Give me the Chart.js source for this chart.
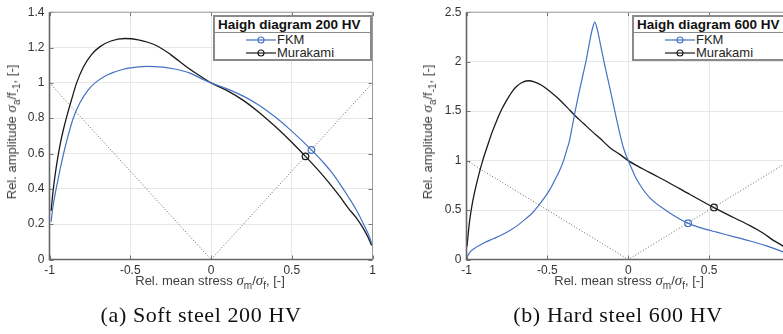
<!DOCTYPE html>
<html><head><meta charset="utf-8">
<script src="https://cdn.jsdelivr.net/npm/chart.js@4.4.1/dist/chart.umd.min.js"></script>
<style>
html,body{margin:0;padding:0;background:#fff;}
body{width:783px;height:334px;overflow:hidden;position:relative;font-family:"Liberation Sans",Arial,Helvetica,sans-serif;}
canvas{position:absolute;top:0;}
#c1{left:0;}
#c2{left:390px;}
.ylab{position:absolute;white-space:nowrap;transform:translate(-50%,-50%) rotate(-90deg);font-size:13px;line-height:15px;color:#404040;}
.xlab{position:absolute;white-space:nowrap;transform:translateX(-50%);font-size:13px;line-height:15px;color:#404040;}
.sym{font-family:"Liberation Serif","Times New Roman",serif;font-style:italic;font-size:15px;}
.sb{font-size:10px;position:relative;top:4px;}
.cap{position:absolute;white-space:nowrap;transform:translateX(-50%);font-family:"Liberation Serif","Times New Roman",serif;font-size:22px;line-height:26px;letter-spacing:0.6px;color:#111;}
.leg{position:absolute;top:15px;width:159px;height:46px;box-sizing:border-box;border:2px solid #8a8a8a;background:#fff;}
.leg .sep{position:absolute;left:0;right:0;top:15px;height:0;border-top:1.5px solid #8a8a8a;}
.leg .ttl{position:absolute;left:3px;top:0px;font-weight:bold;font-size:13.5px;line-height:15px;color:#111;white-space:nowrap;}
.leg .ent{position:absolute;left:31px;font-size:13px;line-height:14px;color:#262626;white-space:nowrap;}
.leg svg{position:absolute;left:31px;}
</style>
</head><body>
<canvas id="c1" width="390" height="334"></canvas>
<canvas id="c2" width="420" height="334"></canvas>

<div class="ylab" style="left:12px;top:132px;">Rel. amplitude <span class="sym">σ</span><span class="sb">a</span>/f<span class="sb">-1</span>, [-]</div>
<div class="ylab" style="left:428px;top:132px;">Rel. amplitude <span class="sym">σ</span><span class="sb">a</span>/f<span class="sb">-1</span>, [-]</div>
<div class="xlab" style="left:210px;top:273px;">Rel. mean stress <span class="sym">σ</span><span class="sb">m</span>/<span class="sym">σ</span><span class="sb">f</span>, [-]</div>
<div class="xlab" style="left:629px;top:273px;">Rel. mean stress <span class="sym">σ</span><span class="sb">m</span>/<span class="sym">σ</span><span class="sb">f</span>, [-]</div>
<div class="cap" style="left:201px;top:302px;">(a) Soft steel 200 HV</div>
<div class="cap" style="left:618px;top:302px;">(b) Hard steel 600 HV</div>

<div class="leg" style="left:213px;">
  <div class="ttl">Haigh diagram 200 HV</div>
  <div class="sep"></div>
  <svg style="left:31px;top:19px" width="30" height="8"><line x1="0" y1="4" x2="30" y2="4" stroke="#4472c4" stroke-width="1.2"/><circle cx="15" cy="4" r="3" fill="none" stroke="#4472c4" stroke-width="1.1"/></svg>
  <div class="ent" style="left:62px;top:16px;">FKM</div>
  <svg style="left:31px;top:32px" width="30" height="8"><line x1="0" y1="4" x2="30" y2="4" stroke="#1a1a1a" stroke-width="1.2"/><circle cx="15" cy="4" r="3" fill="none" stroke="#1a1a1a" stroke-width="1.1"/></svg>
  <div class="ent" style="left:62px;top:29px;">Murakami</div>
</div>
<div class="leg" style="left:632px;">
  <div class="ttl">Haigh diagram 600 HV</div>
  <div class="sep"></div>
  <svg style="left:31px;top:19px" width="30" height="8"><line x1="0" y1="4" x2="30" y2="4" stroke="#4472c4" stroke-width="1.2"/><circle cx="15" cy="4" r="3" fill="none" stroke="#4472c4" stroke-width="1.1"/></svg>
  <div class="ent" style="left:62px;top:16px;">FKM</div>
  <svg style="left:31px;top:32px" width="30" height="8"><line x1="0" y1="4" x2="30" y2="4" stroke="#1a1a1a" stroke-width="1.2"/><circle cx="15" cy="4" r="3" fill="none" stroke="#1a1a1a" stroke-width="1.1"/></svg>
  <div class="ent" style="left:62px;top:29px;">Murakami</div>
</div>

<script>
// ---- tick values / labels ----
const xTickValues = [-1, -0.5, 0, 0.5, 1];
const xTickLabels = ['-1', '-0.5', '0', '0.5', '1'];
const yTickValues200 = [0, 0.2, 0.4, 0.6, 0.8, 1, 1.2, 1.4];
const yTickLabels200 = ['0', '0.2', '0.4', '0.6', '0.8', '1', '1.2', '1.4'];
const yTickValues600 = [0, 0.5, 1, 1.5, 2, 2.5];
const yTickLabels600 = ['0', '0.5', '1', '1.5', '2', '2.5'];

// ---- reference diagonals (sigma_a = |sigma_m|) ----
const diagX = [-1, 0, 1];
const diagY = [1, 0, 1];

// ---- 200 HV: FKM ----
const fkm200X = [-0.99,-0.98,-0.965,-0.95,-0.93,-0.91,-0.885,-0.853,-0.81,-0.76,-0.718,-0.646,-0.543,-0.45,-0.40,-0.30,-0.233,-0.13,-0.06,0,0.1,0.2,0.3,0.4,0.5,0.625,0.7,0.75,0.8,0.85,0.9,0.95,0.98,0.995];
const fkm200Y = [0.214,0.29,0.37,0.44,0.53,0.61,0.70,0.80,0.89,0.96,1.00,1.043,1.077,1.09,1.093,1.089,1.08,1.055,1.024,1.0,0.966,0.925,0.872,0.805,0.727,0.618,0.545,0.49,0.425,0.355,0.28,0.19,0.13,0.09];
// ---- 200 HV: Murakami ----
const mur200X = [-0.99,-0.98,-0.965,-0.95,-0.93,-0.91,-0.89,-0.865,-0.832,-0.79,-0.74,-0.687,-0.62,-0.533,-0.45,-0.336,-0.25,-0.15,-0.07,0,0.1,0.2,0.3,0.4,0.5,0.585,0.65,0.7,0.75,0.8,0.85,0.9,0.94,0.97,0.995];
const mur200Y = [0.275,0.37,0.48,0.57,0.67,0.75,0.82,0.90,1.0,1.09,1.16,1.205,1.237,1.251,1.243,1.21,1.16,1.09,1.04,1.0,0.956,0.901,0.831,0.751,0.664,0.584,0.52,0.468,0.413,0.354,0.291,0.235,0.18,0.13,0.08];
// ---- 200 HV: markers on the diagonal ----
const fkm200Mark = [0.622, 0.62];
const mur200Mark = [0.585, 0.584];

// ---- 600 HV: FKM ----
const fkm600X = [-0.998,-0.985,-0.969,-0.945,-0.918,-0.88,-0.835,-0.78,-0.732,-0.68,-0.629,-0.59,-0.557,-0.52,-0.485,-0.455,-0.423,-0.40,-0.381,-0.365,-0.353,-0.328,-0.296,-0.262,-0.234,-0.222,-0.207,-0.192,-0.18,-0.15,-0.116,-0.083,-0.054,-0.03,0,0.021,0.041,0.072,0.134,0.238,0.371,0.45,0.547,0.65,0.753,0.85,0.957,0.99];
const fkm600Y = [0.02,0.06,0.09,0.12,0.144,0.178,0.21,0.25,0.293,0.35,0.418,0.475,0.54,0.62,0.706,0.80,0.905,1.0,1.103,1.19,1.285,1.5,1.75,2.0,2.24,2.33,2.40,2.33,2.24,2.0,1.75,1.5,1.285,1.13,1.0,0.92,0.845,0.756,0.623,0.491,0.365,0.32,0.276,0.232,0.187,0.14,0.077,0.055];
// ---- 600 HV: Murakami ----
const mur600X = [-0.997,-0.99,-0.98,-0.969,-0.95,-0.925,-0.9,-0.87,-0.842,-0.814,-0.783,-0.752,-0.722,-0.691,-0.66,-0.619,-0.577,-0.536,-0.495,-0.443,-0.381,-0.33,-0.278,-0.217,-0.175,-0.113,-0.05,0,0.134,0.238,0.382,0.53,0.65,0.753,0.835,0.897,0.957,0.99];
const mur600Y = [0.13,0.25,0.4,0.52,0.68,0.85,1.0,1.15,1.285,1.401,1.516,1.609,1.688,1.748,1.787,1.807,1.794,1.761,1.714,1.642,1.543,1.456,1.377,1.285,1.225,1.13,1.06,1.0,0.878,0.789,0.657,0.524,0.425,0.342,0.266,0.193,0.135,0.09];
// ---- 600 HV: markers ----
const fkm600Mark = [0.37, 0.367];
const mur600Mark = [0.53, 0.526];

const BLUE = '#4472c4';
const BLACK = '#1a1a1a';
const FONT = '"Liberation Sans", Arial, Helvetica, sans-serif';

function pts(xs, ys) { return xs.map((x, i) => ({x: x, y: ys[i]})); }

const framePlugin = {
  id: 'frame',
  afterDatasetsDraw(chart) {
    const ctx = chart.ctx, a = chart.chartArea, xs = chart.scales.x, ys = chart.scales.y;
    ctx.save();
    ctx.lineWidth = 1;
    ctx.strokeStyle = '#777';
    ctx.beginPath();
    xs.ticks.forEach(t => {
      const p = Math.round(xs.getPixelForValue(t.value)) + 0.5;
      ctx.moveTo(p, a.bottom); ctx.lineTo(p, a.bottom - 4);
      ctx.moveTo(p, a.top); ctx.lineTo(p, a.top + 4);
    });
    ys.ticks.forEach(t => {
      const p = Math.round(ys.getPixelForValue(t.value)) + 0.5;
      ctx.moveTo(a.left, p); ctx.lineTo(a.left + 4, p);
      ctx.moveTo(a.right, p); ctx.lineTo(a.right - 4, p);
    });
    ctx.stroke();
    ctx.strokeStyle = '#9a9a9a';
    ctx.lineWidth = 1;
    ctx.beginPath();
    ctx.moveTo(a.left, a.top); ctx.lineTo(a.right, a.top); ctx.lineTo(a.right, a.bottom);
    ctx.stroke();
    ctx.strokeStyle = '#666';
    ctx.lineWidth = 1.6;
    ctx.beginPath();
    ctx.moveTo(a.left, a.top); ctx.lineTo(a.left, a.bottom); ctx.lineTo(a.right, a.bottom);
    ctx.stroke();
    ctx.restore();
  }
};

function makeChart(id, cfg) {
  const datasets = [
    {data: pts(diagX, diagY), showLine: true, borderColor: '#666', borderWidth: 1, borderDash: [1, 2], pointRadius: 0, tension: 0},
    {data: pts(cfg.fkmX, cfg.fkmY), showLine: true, borderColor: BLUE, borderWidth: 1.2, pointRadius: 0, cubicInterpolationMode: 'monotone'},
    {data: pts(cfg.murX, cfg.murY), showLine: true, borderColor: BLACK, borderWidth: 1.3, pointRadius: 0, cubicInterpolationMode: 'monotone'},
    {data: [{x: cfg.fkmMark[0], y: cfg.fkmMark[1]}], showLine: false, pointRadius: 3.3, pointStyle: 'circle', pointBorderColor: BLUE, pointBackgroundColor: 'rgba(0,0,0,0)', pointBorderWidth: 1.2},
    {data: [{x: cfg.murMark[0], y: cfg.murMark[1]}], showLine: false, pointRadius: 3.3, pointStyle: 'circle', pointBorderColor: BLACK, pointBackgroundColor: 'rgba(0,0,0,0)', pointBorderWidth: 1.2}
  ];
  return new Chart(document.getElementById(id), {
    type: 'scatter',
    data: {datasets: datasets},
    plugins: [framePlugin],
    options: {
      responsive: false,
      animation: false,
      devicePixelRatio: 1,
      layout: {padding: {left: 0, right: cfg.padRight, top: 7.5, bottom: 0}},
      plugins: {legend: {display: false}, tooltip: {enabled: false}, title: {display: false}},
      scales: {
        x: {
          type: 'linear', min: -1, max: 1,
          afterBuildTicks: s => { s.ticks = xTickValues.map(v => ({value: v})); },
          afterFit: s => { s.height = 74.5; },
          grid: {color: '#e8e8e8', lineWidth: 1, drawTicks: false},
          border: {display: false},
          ticks: {autoSkip: false, maxRotation: 0, padding: 4, color: '#333', font: {family: FONT, size: 12},
                  callback: (v, i) => xTickLabels[i]}
        },
        y: {
          type: 'linear', min: 0, max: cfg.yMax,
          afterBuildTicks: s => { s.ticks = cfg.yVals.map(v => ({value: v})); },
          afterFit: s => { s.width = cfg.yWidth; },
          grid: {color: '#e8e8e8', lineWidth: 1, drawTicks: false},
          border: {display: false},
          ticks: {autoSkip: false, padding: 5, color: '#333', font: {family: FONT, size: 12},
                  callback: (v, i) => cfg.yLabels[i]}
        }
      }
    }
  });
}

makeChart('c1', {fkmX: fkm200X, fkmY: fkm200Y, murX: mur200X, murY: mur200Y, fkmMark: fkm200Mark, murMark: mur200Mark,
  yMax: 1.4, yVals: yTickValues200, yLabels: yTickLabels200, yWidth: 49.5, padRight: 17.5});
makeChart('c2', {fkmX: fkm600X, fkmY: fkm600Y, murX: mur600X, murY: mur600Y, fkmMark: fkm600Mark, murMark: mur600Mark,
  yMax: 2.5, yVals: yTickValues600, yLabels: yTickLabels600, yWidth: 76.5, padRight: 20});
</script>
</body></html>
